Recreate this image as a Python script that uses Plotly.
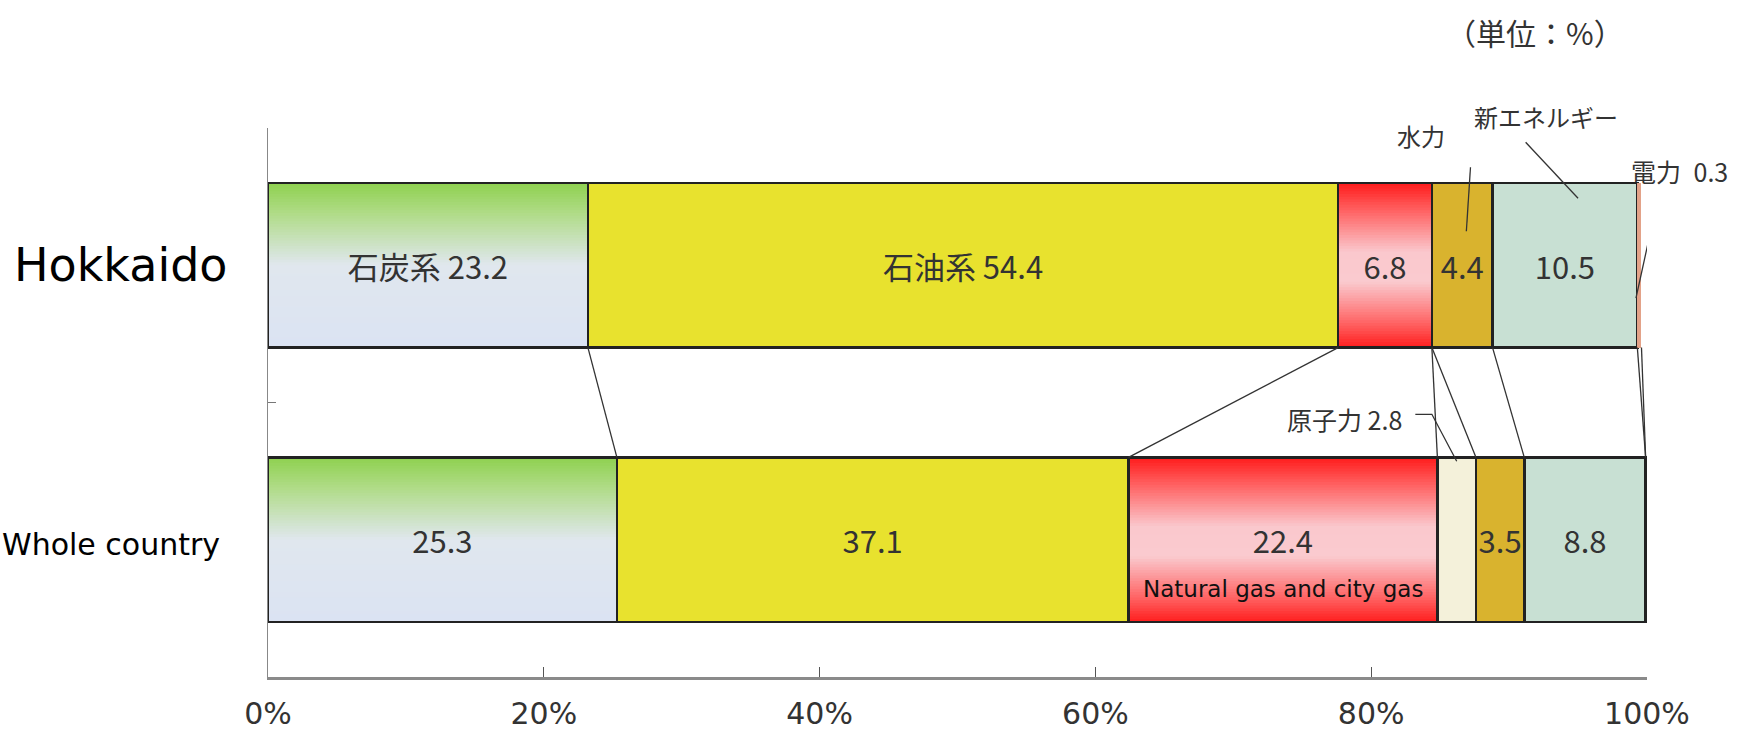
import plotly.graph_objects as go

# ---------------- data ----------------
categories = ["Hokkaido", "Whole country"]
sources = ["石炭系", "石油系", "天然ガス・都市ガス", "原子力", "水力", "新エネルギー", "電力"]
hokkaido = [23.2, 54.4, 6.8, 0.0, 4.4, 10.5, 0.3]
country = [25.3, 37.1, 22.4, 2.8, 3.5, 8.8, 0.0]
hokkaido_text = ["石炭系 23.2", "石油系 54.4", "6.8", "", "4.4", "10.5", ""]
country_text = ["25.3", "37.1", "22.4", "", "3.5", "8.8", ""]
x_tickvals = [0, 20, 40, 60, 80, 100]
x_ticktext = ["0%", "20%", "40%", "60%", "80%", "100%"]

# ---------------- styles ----------------
CLEAR = "rgba(0,0,0,0)"
fill_colors = [CLEAR, "#e8e22e", CLEAR, "#f4f1da", "#d9b32e", "#c8e0d3", "#e3a288"]
outline_w = [2.5, 2.5, 2.5, 2.5, 2.5, 2.5, 0]
gradients = {
    0: [(0.0, (143, 209, 79)), (0.2, (178, 220, 140)), (0.5, (224, 231, 238)), (1.0, (219, 227, 243))],
    2: [(0.0, (255, 28, 28)), (0.15, (255, 90, 90)), (0.42, (250, 200, 205)), (0.6, (250, 202, 207)),
        (0.85, (255, 100, 100)), (1.0, (255, 30, 30))],
}
BAR_HALF = 0.3
TXT = "#333333"
CJK = "Noto Sans CJK JP, Noto Sans CJK SC, sans-serif"
LATIN = "DejaVu Sans, Verdana, sans-serif"
PX_PER_CAT = 274.5  # vertical pixels per category unit (for shifts)


def cum(vals):
    out, s = [], 0.0
    for v in vals:
        out.append((s, s + v))
        s += v
    return out


h_cum = cum(hokkaido)
c_cum = cum(country)


def interp(stops, t):
    for (t0, c0), (t1, c1) in zip(stops[:-1], stops[1:]):
        if t0 <= t <= t1:
            f = (t - t0) / (t1 - t0) if t1 > t0 else 0
            return "rgb(%d,%d,%d)" % tuple(round(a + (b - a) * f) for a, b in zip(c0, c1))
    return "rgb(%d,%d,%d)" % stops[-1][1]


fig = go.Figure()
for i, src in enumerate(sources):
    fig.add_trace(go.Bar(
        y=categories,
        x=[hokkaido[i], country[i]],
        orientation="h",
        name=src,
        text=[hokkaido_text[i], country_text[i]],
        textposition="inside",
        insidetextanchor="middle",
        textangle=0,
        constraintext="none",
        textfont=dict(family=CJK, size=31, color=TXT),
        marker=dict(color=fill_colors[i], line=dict(color="#222222", width=outline_w[i])),
        hoverinfo="skip",
        showlegend=False,
    ))

shapes = []
# gradient fills (drawn beneath transparent bars)
N = 60
for idx, stops in gradients.items():
    for row, segs in enumerate([h_cum, c_cum]):
        x0, x1 = segs[idx]
        if x1 - x0 <= 0:
            continue
        top = row - BAR_HALF
        h = 2 * BAR_HALF / N
        for k in range(N):
            t = (k + 0.5) / N
            y1 = min(top + (k + 1) * h + h * 0.6, row + BAR_HALF)
            shapes.append(dict(type="rect", xref="x", yref="y", layer="below",
                               x0=x0, x1=x1, y0=top + k * h, y1=y1,
                               fillcolor=interp(stops, t), line=dict(width=0)))

# connectors between the two bars
line_style = dict(color="#333333", width=1.3)
for i in range(len(sources)):
    shapes.append(dict(type="line", xref="x", yref="y", x0=h_cum[i][1], y0=0 + BAR_HALF,
                       x1=c_cum[i][1], y1=1 - BAR_HALF, line=line_style))


def mid(segs, i):
    return (segs[i][0] + segs[i][1]) / 2


# leader lines for callouts
hyd = mid(h_cum, 4)
shapes.append(dict(type="line", xref="x", yref="y", x0=hyd + 0.6, y0=-0.357, x1=hyd + 0.3, y1=-0.124, line=line_style))
new = mid(h_cum, 5)
shapes.append(dict(type="line", xref="x", yref="y", x0=new - 2.85, y0=-0.448, x1=new + 0.95, y1=-0.244, line=line_style))
ele = mid(h_cum, 6)
shapes.append(dict(type="line", xref="x", yref="y", x0=ele + 1.45, y0=-0.27, x1=ele - 0.25, y1=0.12, line=line_style))
nuc = mid(c_cum, 3)
shapes.append(dict(type="path", xref="x", yref="y",
                   path="M %f,%f L %f,%f L %f,%f" % (nuc - 3.0, 0.543, nuc - 1.8, 0.543, nuc, 0.714),
                   line=line_style))

annotations = [
    dict(text="Hokkaido", xref="paper", yref="y", x=-0.0276, y=0, xanchor="right", yanchor="middle",
         showarrow=False, font=dict(family=LATIN, size=46, color="#000")),
    dict(text="Whole country", xref="paper", yref="y", x=-0.0334, y=1, yshift=-5, xanchor="right",
         yanchor="middle", showarrow=False, font=dict(family=LATIN, size=30, color="#000")),
    dict(text="Natural gas and city gas", xref="x", yref="y", x=mid(c_cum, 2), y=1, yshift=-49,
         showarrow=False, font=dict(family=LATIN, size=23, color="#111")),
    dict(text="水力", xref="x", yref="y", x=hyd - 3.0, y=-0.474, showarrow=False,
         font=dict(family=CJK, size=24, color=TXT)),
    dict(text="新エネルギー", xref="x", yref="y", x=new - 1.35, y=-0.5, yshift=0.043 * PX_PER_CAT,
         showarrow=False, font=dict(family=CJK, size=24, color=TXT)),
    dict(text="電力\u20020.3", xref="x", yref="y", x=ele - 0.75, y=-0.342, xanchor="left", showarrow=False,
         font=dict(family=CJK, size=25, color=TXT)),
    dict(text="原子力 2.8", xref="x", yref="y", x=nuc - 3.8, y=0.561, xanchor="right", showarrow=False,
         font=dict(family=CJK, size=25, color=TXT)),
    dict(text="（単位：%）", xref="paper", yref="paper", x=0.919, y=1.175, xanchor="center",
         yanchor="middle", showarrow=False, font=dict(family=CJK, size=30, color=TXT)),
]

fig.update_layout(
    width=1752, height=736,
    margin=dict(l=268, r=105, t=128, b=59, autoexpand=False),
    paper_bgcolor="white", plot_bgcolor="white",
    barmode="stack", bargap=0.4,
    shapes=shapes, annotations=annotations,
    showlegend=False,
    xaxis=dict(range=[0, 100], tickvals=x_tickvals, ticktext=x_ticktext, ticks="inside", ticklen=10,
               tickcolor="#555", tickwidth=1, showline=True, linecolor="#8a8a8a", linewidth=3,
               showgrid=False, zeroline=False, ticklabelstandoff=8, automargin=False,
               tickfont=dict(family=LATIN, size=30, color="#333"), fixedrange=True),
    yaxis=dict(type="category", categoryarray=categories, range=[1.5, -0.5], tickson="boundaries",
               ticks="inside", ticklen=8, tickcolor="#777", showticklabels=False, showline=True,
               linecolor="#888", linewidth=1, showgrid=False, zeroline=False, fixedrange=True,
               automargin=False),
)

fig.write_html("out.html")
